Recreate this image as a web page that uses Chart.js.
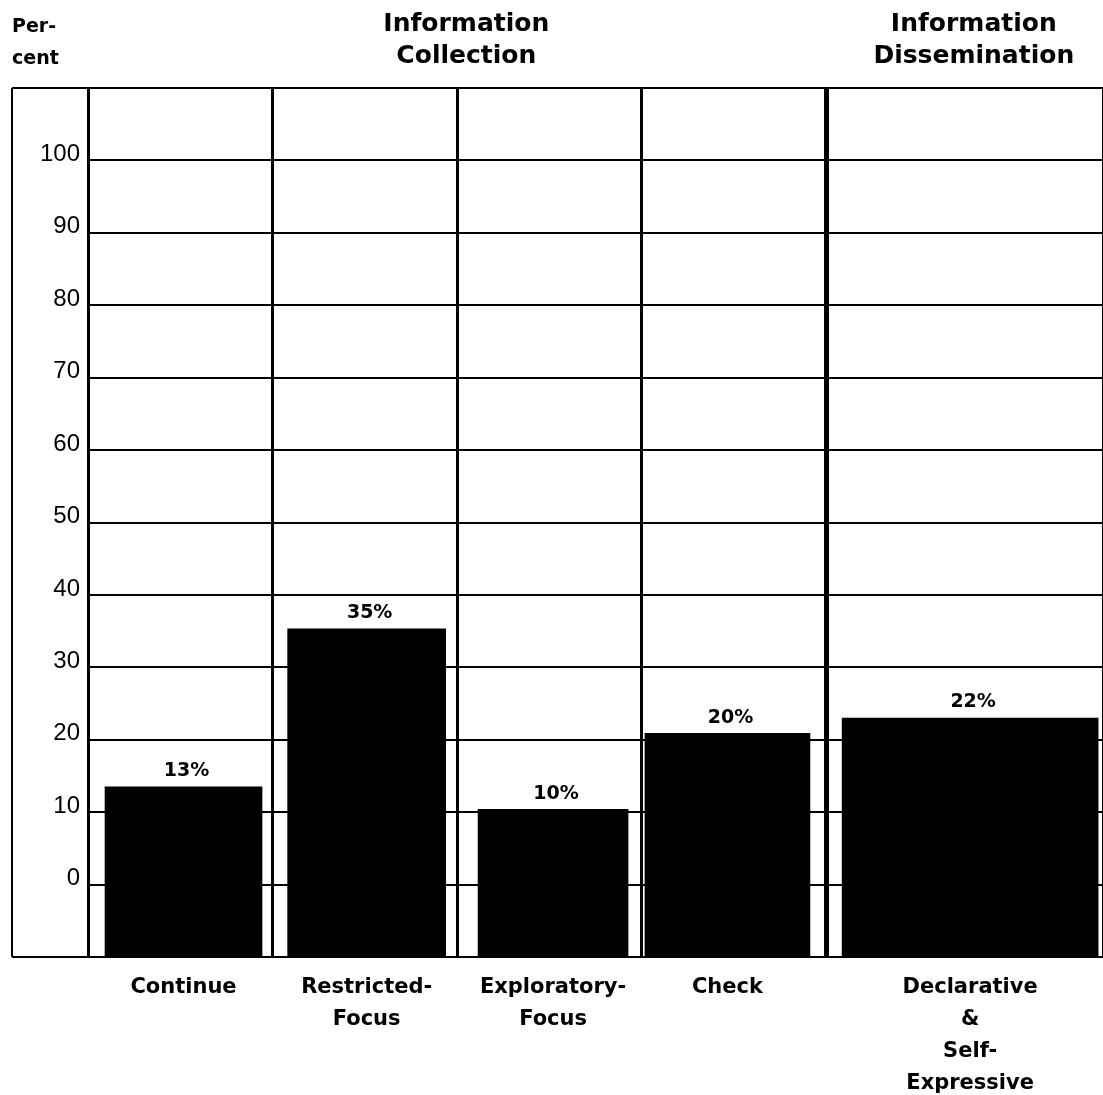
<!DOCTYPE html>
<html>
<head>
<meta charset="utf-8">
<script src="https://cdn.jsdelivr.net/npm/chart.js@4.4.1/dist/chart.umd.min.js"></script>
<style>
  html, body { margin: 0; padding: 0; background: #fff; }
  canvas { display: block; }
</style>
</head>
<body>
<canvas id="chart" width="1103" height="1095"></canvas>
<script>
/*********************************************************
 DATA
*********************************************************/
const categories = [
  ["Continue"],
  ["Restricted-", "Focus"],
  ["Exploratory-", "Focus"],
  ["Check"],
  ["Declarative", "&", "Self-", "Expressive"]
];
const percents      = [13.5, 35.3, 10.4, 20.9, 23.0];
const percentLabels = ["13%", "35%", "10%", "20%", "22%"];
const yTickValues   = [0, 10, 20, 30, 40, 50, 60, 70, 80, 90, 100];
const groupTitles   = [["Information", "Collection"], ["Information", "Dissemination"]];
const axisTitle     = ["Per-", "cent"];

/*********************************************************
 LAYOUT
*********************************************************/
const colUnits   = [2, 2, 2, 2, 3];                // column widths in x units
const barCenters = [1.035, 3.02, 5.04, 6.93, 9.56]; // bars sit a bit off centre
const barWidths  = [157, 158, 150, 165, 256];
const FRAME_LEFT = 12;
const BOLD = "DejaVu Sans";

// column boundaries and centres on the linear x scale
const bounds = [0];
colUnits.forEach(u => bounds.push(bounds[bounds.length - 1] + u));
const centers = colUnits.map((u, i) => bounds[i] + u / 2);

/*********************************************************
 PLUGINS
*********************************************************/
const framePlugin = {
  id: "frame",
  afterDraw(chart) {
    const { ctx, chartArea } = chart;
    ctx.save();
    ctx.strokeStyle = "#000";
    ctx.lineWidth = 2;
    ctx.beginPath();
    ctx.moveTo(FRAME_LEFT, chartArea.top);
    ctx.lineTo(chartArea.right, chartArea.top);
    ctx.moveTo(FRAME_LEFT, chartArea.bottom);
    ctx.lineTo(chartArea.right, chartArea.bottom);
    ctx.moveTo(FRAME_LEFT, chartArea.top);
    ctx.lineTo(FRAME_LEFT, chartArea.bottom);
    ctx.stroke();
    ctx.restore();
  }
};

const labelPlugin = {
  id: "barLabels",
  afterDatasetsDraw(chart) {
    const { ctx } = chart;
    ctx.save();
    ctx.fillStyle = "#000";
    ctx.font = "bold 19px " + BOLD;
    ctx.textAlign = "center";
    ctx.textBaseline = "bottom";
    chart.data.datasets.forEach((ds, i) => {
      const el = chart.getDatasetMeta(i).data[0];
      ctx.fillText(percentLabels[i], el.x + 3, el.y - 6);
    });
    ctx.restore();
  }
};

const titlePlugin = {
  id: "titles",
  afterDraw(chart) {
    const { ctx } = chart;
    const x = chart.scales.x;
    ctx.save();
    ctx.fillStyle = "#000";
    ctx.textBaseline = "middle";

    ctx.font = "bold 19px " + BOLD;
    ctx.textAlign = "left";
    ctx.fillText(axisTitle[0], 12, 27);
    ctx.fillText(axisTitle[1], 12, 59);

    ctx.font = "bold 25px " + BOLD;
    ctx.textAlign = "center";
    const groupX = [x.getPixelForValue(4.1), x.getPixelForValue(9.6)];
    groupTitles.forEach((t, i) => {
      ctx.fillText(t[0], groupX[i], 24);
      ctx.fillText(t[1], groupX[i], 56);
    });
    ctx.restore();
  }
};

/*********************************************************
 CHART
*********************************************************/
const datasets = categories.map((c, i) => ({
  label: c.join(" "),
  data: [{ x: barCenters[i], y: percents[i] }],
  base: -10,
  grouped: false,
  barThickness: barWidths[i],
  backgroundColor: "#000",
  borderWidth: 0
}));

const ctx = document.getElementById("chart").getContext("2d");

new Chart(ctx, {
  type: "bar",
  data: { datasets },
  options: {
    responsive: false,
    animation: false,
    devicePixelRatio: 1,
    layout: { padding: { top: 88, left: 0, right: 0, bottom: 0 } },
    plugins: {
      legend: { display: false },
      tooltip: { enabled: false }
    },
    scales: {
      x: {
        type: "linear",
        min: 0,
        max: bounds[bounds.length - 1],
        offset: false,
        afterBuildTicks(axis) {
          const vals = bounds.concat(barCenters).sort((a, b) => a - b);
          axis.ticks = vals.map(v => ({ value: v }));
        },
        afterFit(scale) {
          scale.height = 138;
          scale.paddingLeft = 0;
          scale.paddingRight = 0;
        },
        ticks: {
          autoSkip: false,
          maxRotation: 0,
          padding: 15,
          color: "#000",
          font: { family: BOLD, weight: "bold", size: 21, lineHeight: 1.52 },
          callback(v) {
            const i = barCenters.indexOf(v);
            return i >= 0 ? categories[i] : "";
          }
        },
        grid: {
          offset: false,
          drawTicks: false,
          color: "#000",
          lineWidth(c) {
            const v = c.tick ? c.tick.value : null;
            if (v === bounds[4]) return 5;
            if (v === bounds[bounds.length - 1]) return 2;
            return bounds.includes(v) ? 3 : 0;
          }
        },
        border: { display: false }
      },
      y: {
        type: "linear",
        min: -10,
        max: 110,
        afterFit(scale) { scale.width = 88; },
        ticks: {
          stepSize: 10,
          padding: 8,
          labelOffset: -6,
          color: "#000",
          font: { family: "Liberation Sans", size: 24 },
          callback(v) { return yTickValues.includes(v) ? String(v) : ""; }
        },
        grid: { drawTicks: false, color: "#000", lineWidth: 2 },
        border: { display: true, color: "#000", width: 3 }
      }
    }
  },
  plugins: [framePlugin, labelPlugin, titlePlugin]
});
</script>
</body>
</html>
